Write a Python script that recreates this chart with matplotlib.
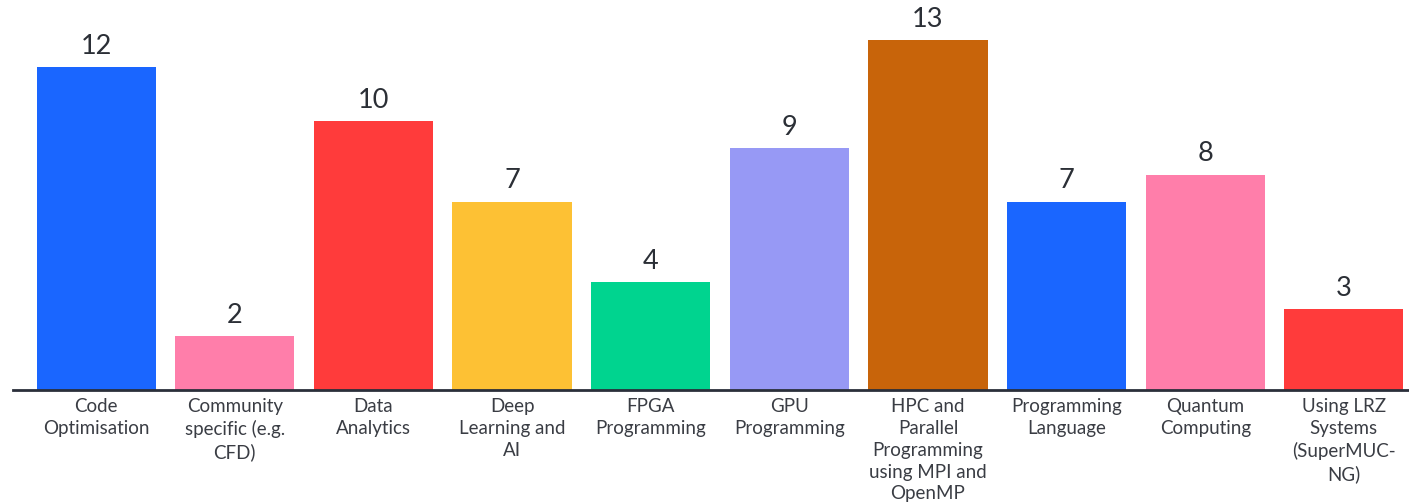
import matplotlib
matplotlib.use('Agg')
import matplotlib.pyplot as plt

categories = [
    'Code\nOptimisation',
    'Community\nspecific (e.g.\nCFD)',
    'Data\nAnalytics',
    'Deep\nLearning and\nAI',
    'FPGA\nProgramming',
    'GPU\nProgramming',
    'HPC and\nParallel\nProgramming\nusing MPI and\nOpenMP',
    'Programming\nLanguage',
    'Quantum\nComputing',
    'Using LRZ\nSystems\n(SuperMUC-\nNG)',
]
counts = [12, 2, 10, 7, 4, 9, 13, 7, 8, 3]
colors = ['#1A66FF', '#FF7EAA', '#FF3B3B', '#FDC134', '#00D48F',
          '#9799F5', '#C8640A', '#1A66FF', '#FF7EAA', '#FF3B3B']

plt.rcParams['font.family'] = ['Lato', 'DejaVu Sans']

fig = plt.figure(figsize=(14.09, 5.03), dpi=100)
ax = fig.add_axes([0.0092, 0.2247, 0.9908, 0.7753])

x = list(range(len(counts)))
bars = ax.bar(x, counts, width=0.86, color=colors)

for rect, val in zip(bars, counts):
    ax.annotate(str(val), (rect.get_x() + rect.get_width() / 2, rect.get_height()),
                xytext=(0, 6), textcoords='offset points',
                ha='center', va='bottom', fontsize=19.5, color='#2b2f36')

ax.set_xlim(-0.6, 9.47)
ax.set_ylim(0, 14.5)
ax.set_xticks(x)
ax.set_xticklabels(categories, fontsize=13.5, color='#3a3d44', linespacing=1.34)
ax.tick_params(axis='x', length=0, pad=6)
ax.set_yticks([])
for side in ['top', 'right', 'left']:
    ax.spines[side].set_visible(False)
ax.spines['bottom'].set_color('#2a2f3a')
ax.spines['bottom'].set_linewidth(2)

fig.savefig('out.png', dpi=100)
